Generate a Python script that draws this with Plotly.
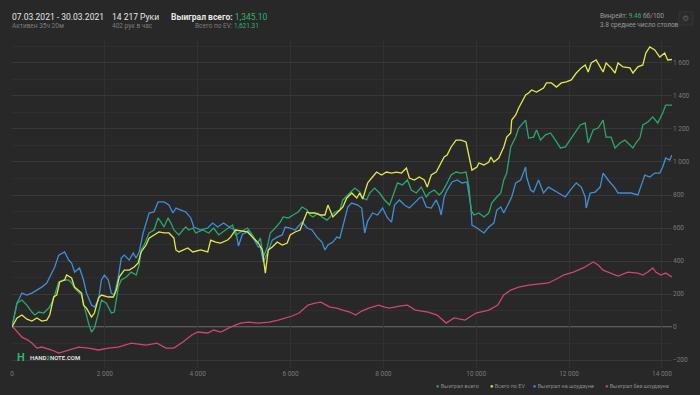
import plotly.graph_objects as go

# ---------------- data ----------------
blue_x = [0,107,214,321,428,535,642,749,856,920,1006,1070,1134,1220,1284,1348,1455,1541,1605,1712,1776,1862,1926,1990,2076,2140,2204,2290,2354,2418,2525,2611,2675,2739,2825,2889,2953,3060,3146,3274,3381,3467,3531,3638,3745,3852,3916,4066,4216,4323,4430,4558,4708,4815,4879,4965,5029,5093,5200,5307,5350,5414,5500,5607,5714,5821,5885,5992,6099,6249,6356,6463,6570,6677,6741,6805,6912,6998,7062,7126,7233,7319,7447,7533,7597,7661,7768,7875,7982,8089,8175,8239,8346,8453,8560,8667,8774,8838,8924,9031,9138,9202,9245,9309,9373,9480,9587,9694,9801,9887,9908,10015,10122,10165,10272,10379,10443,10529,10593,10700,10764,10850,10957,11064,11085,11171,11235,11342,11449,11556,11663,11770,11920,12027,12155,12262,12348,12369,12455,12562,12669,12733,12840,12990,13054,13204,13332,13482,13546,13632,13739,13846,13953,14017,14082,14167,14217]
blue_y = [0,145,206,194,206,224,242,267,327,364,436,448,455,406,388,333,358,285,206,133,121,164,285,315,285,206,194,303,418,436,406,448,418,455,570,630,691,697,758,758,739,691,721,709,697,661,606,588,600,630,606,630,600,588,491,564,570,588,539,485,485,394,448,527,545,558,606,600,588,636,600,588,545,515,467,497,515,545,539,606,727,751,739,721,570,642,691,679,721,661,636,739,770,739,721,751,782,788,727,721,770,727,679,788,830,879,891,873,879,727,618,600,576,570,606,630,709,727,691,751,788,873,891,970,909,830,818,891,812,848,830,812,788,830,873,848,788,721,812,818,848,933,891,842,812,812,812,800,848,921,909,933,933,970,1024,1012,1042]

green_x = [0,107,214,321,428,492,578,685,792,856,920,1006,1113,1220,1284,1348,1498,1562,1648,1712,1776,1862,1926,2033,2140,2204,2290,2354,2461,2568,2675,2739,2782,2846,2953,3060,3146,3210,3274,3360,3424,3488,3595,3681,3745,3809,3895,3959,4109,4237,4344,4451,4537,4644,4751,4815,4922,5072,5179,5286,5350,5414,5500,5564,5671,5778,5842,5949,6056,6163,6249,6356,6420,6484,6591,6677,6784,6891,6955,7062,7126,7276,7383,7490,7554,7640,7704,7811,7918,8025,8132,8196,8303,8410,8517,8602,8709,8816,8923,8987,9094,9202,9266,9352,9459,9566,9673,9780,9844,9887,9951,10058,10165,10272,10336,10443,10529,10593,10657,10743,10850,10914,11021,11064,11128,11235,11299,11385,11492,11599,11706,11813,11920,12027,12134,12241,12348,12412,12519,12626,12733,12797,12904,12990,13097,13204,13311,13375,13439,13525,13589,13696,13803,13910,14017,14082,14217]
green_y = [0,145,164,133,91,73,91,85,115,145,194,273,285,285,267,236,194,121,24,-30,-6,85,164,145,85,91,242,285,303,333,315,376,467,497,570,588,661,636,606,661,630,588,558,588,606,588,600,570,588,570,600,558,576,600,618,558,576,600,558,509,539,424,485,570,600,636,667,661,679,697,727,709,679,667,691,667,648,679,697,709,770,812,842,818,782,770,812,842,812,770,739,788,873,861,891,830,812,848,788,812,830,800,818,861,921,939,933,939,848,709,679,691,667,691,752,788,812,891,933,1091,1151,1206,1236,1254,1145,1151,1194,1133,1164,1176,1133,1085,1091,1133,1176,1224,1236,1115,1194,1206,1254,1151,1151,1085,1115,1133,1103,1085,1115,1145,1224,1242,1273,1236,1297,1345,1345]

yellow_x = [0,107,214,321,428,535,642,749,813,899,963,1027,1134,1177,1284,1348,1498,1541,1605,1712,1776,1862,1926,2076,2183,2247,2311,2418,2525,2632,2718,2782,2889,2953,3060,3167,3274,3381,3488,3531,3595,3702,3788,3895,4066,4216,4280,4387,4494,4644,4708,4815,4922,5072,5200,5307,5393,5457,5521,5607,5714,5821,5928,5992,6099,6206,6270,6356,6420,6527,6634,6741,6805,6912,7019,7126,7212,7319,7426,7490,7554,7661,7747,7854,7961,8068,8175,8282,8389,8496,8560,8667,8774,8881,8945,9031,9138,9245,9309,9373,9459,9566,9673,9780,9844,9908,10015,10058,10165,10272,10315,10379,10486,10593,10657,10743,10764,10850,10914,10978,11064,11128,11192,11299,11449,11513,11620,11727,11834,11941,12048,12155,12262,12348,12412,12476,12583,12669,12733,12797,12904,12990,13054,13161,13311,13375,13482,13589,13653,13739,13846,13953,14060,14124,14217]
yellow_y = [0,55,73,48,36,55,36,42,73,182,194,273,285,315,297,242,206,133,115,61,85,176,194,182,182,224,303,345,345,364,388,455,497,539,558,576,570,570,539,467,455,467,479,455,467,455,527,515,509,527,545,588,582,576,539,509,467,327,467,485,515,497,509,558,576,588,636,697,691,691,679,679,739,667,697,727,782,812,782,812,776,873,903,939,921,939,933,939,933,964,903,891,909,891,848,921,939,1000,1030,1042,1091,1133,1133,1121,1024,951,970,994,982,1000,1030,1000,1024,1091,1151,1176,1254,1285,1327,1364,1406,1418,1436,1424,1448,1479,1479,1454,1479,1485,1497,1539,1570,1588,1545,1600,1618,1576,1545,1600,1570,1539,1600,1576,1570,1539,1576,1588,1660,1697,1679,1636,1660,1618,1621]

pink_x = [0,43,214,342,428,535,642,856,1006,1220,1434,1648,1862,2076,2290,2568,2889,3124,3317,3488,3681,3874,4002,4216,4344,4494,4708,4922,5093,5307,5543,5735,5906,6035,6185,6377,6527,6655,6848,6998,7126,7276,7404,7533,7683,7897,8025,8132,8346,8517,8688,8816,8966,9159,9352,9523,9758,9994,10165,10272,10464,10593,10743,10914,11128,11342,11556,11770,11877,12091,12305,12412,12519,12626,12733,12840,13054,13268,13482,13589,13696,13803,13867,13974,14082,14217]
pink_y = [0,-6,-61,-79,-97,-127,-121,-139,-158,-139,-121,-127,-139,-127,-121,-97,-109,-97,-127,-127,-91,-48,-30,-36,-18,-30,0,24,30,24,30,42,55,67,85,133,145,151,121,115,103,91,73,97,115,133,121,115,127,133,103,97,91,73,24,55,42,85,97,103,133,194,224,242,254,261,267,297,315,333,358,376,394,376,345,333,309,333,327,315,333,358,333,315,327,303]

series_names = ["Выиграл всего", "Всего по EV", "Выиграл на шоудауне", "Выиграл без шоудауна"]
series_colors = ["#2aa86c", "#e3e84b", "#3f8fd8", "#cf4574"]

x_tickvals = [0, 2000, 4000, 6000, 8000, 10000, 12000, 14000]
y_tickvals = [-200, 0, 200, 400, 600, 800, 1000, 1200, 1400, 1600]

# ---------------- figure ----------------
W, H = 700, 395
ML, MR, MT, MB = 10, 24, 40, 27
PW, PH = W - ML - MR, H - MT - MB

def px(x):
    return (x - ML) / PW

def py(y):
    return (H - MB - y) / PH

BG = "#282828"
fig = go.Figure()

# zero line
fig.add_shape(type="line", xref="x", yref="y", x0=0, x1=14217, y0=0, y1=0,
              line=dict(color="#5c5c5c", width=2), layer="below")

for xs, ys, name, col in [
    (pink_x, pink_y, series_names[3], series_colors[3]),
    (blue_x, blue_y, series_names[2], series_colors[2]),
    (green_x, green_y, series_names[0], series_colors[0]),
    (yellow_x, yellow_y, series_names[1], series_colors[1]),
]:
    fig.add_trace(go.Scatter(x=xs, y=ys, mode="lines", name=name,
                             line=dict(color=col, width=1.3), showlegend=False))

fig.update_layout(
    width=W, height=H,
    margin=dict(l=ML, r=MR, t=MT, b=MB),
    paper_bgcolor=BG, plot_bgcolor=BG,
    font=dict(family="Roboto, sans-serif", color="#7a7a7a", size=7),
    separators=". ",
    showlegend=False,
    xaxis=dict(range=[0, 14217], tickvals=x_tickvals, showgrid=True,
               gridcolor="#323232", gridwidth=1, zeroline=False, showline=False,
               tickfont=dict(size=6.5, color="#7a7a7a"), ticks="",
               tickformat=",d"),
    yaxis=dict(range=[-248, 1739], tickvals=y_tickvals, side="right",
               showgrid=True, gridcolor="#383838", gridwidth=1, zeroline=False,
               showline=False, tickfont=dict(size=6.5, color="#7a7a7a"),
               ticks="", tickformat=",d",
               minor=dict(dtick=100, tick0=0, showgrid=True, gridcolor="#2f2f2f")),
)

ann = []
def text(x, y, t, size=8, color="#8a8a8a", xanchor="left"):
    ann.append(dict(xref="paper", yref="paper", x=px(x), y=py(y), text=t,
                    showarrow=False, xanchor=xanchor, yanchor="middle",
                    font=dict(size=size, color=color, family="Roboto, sans-serif")))

GREEN_TXT = "#2fb474"
text(8, 17, "07.03.2021 - 30.03.2021", size=8.5, color="#e6e6e6")
text(8, 26, "Активен 35ч 20м", size=6.5, color="#7d7d7d")
text(109, 17, "14 217 Руки", size=8.5, color="#e6e6e6")
text(109, 26, "402 рук в час", size=6.5, color="#7d7d7d")
text(168, 17, "<b>Выиграл всего:</b> <span style='color:%s'>1,345.10</span>" % GREEN_TXT,
     size=8.5, color="#e6e6e6")
text(261, 26, "Всего по EV: <span style='color:%s'>1,621.31</span>" % GREEN_TXT,
     size=6.5, color="#7d7d7d", xanchor="right")
text(601, 16, "Винрейт: <span style='color:%s'>9.46</span> бб/100" % GREEN_TXT,
     size=6.5, color="#9a9a9a")
text(601, 25, "3.8 среднее число столов", size=6.5, color="#9a9a9a")

# gear icon
fig.add_shape(type="rect", xref="paper", yref="paper", x0=px(683), x1=px(697),
              y0=py(25), y1=py(12), line=dict(color="#363636", width=1),
              fillcolor="#2b2b2b")
text(690, 18.5, "⚙", size=8, color="#5e5e5e", xanchor="center")

# watermark
text(13, 357, "<b>H</b>", size=11, color="#2fb474")
text(26, 357, "<b>HAND<span style='color:#2fb474'>2</span>NOTE.COM</b>", size=6, color="#dddddd")

# legend
legend_pos = [436, 490, 534, 606]
for xpos, i in zip(legend_pos, range(4)):
    text(xpos, 386, "<span style='color:%s'>●</span> %s" % (series_colors[i], series_names[i]),
         size=5.5, color="#8a8a8a")

fig.update_layout(annotations=ann)
fig.write_html("out.html", config={"displayModeBar": False},
               post_script="document.body.style.margin='0';document.body.style.overflow='hidden';")
